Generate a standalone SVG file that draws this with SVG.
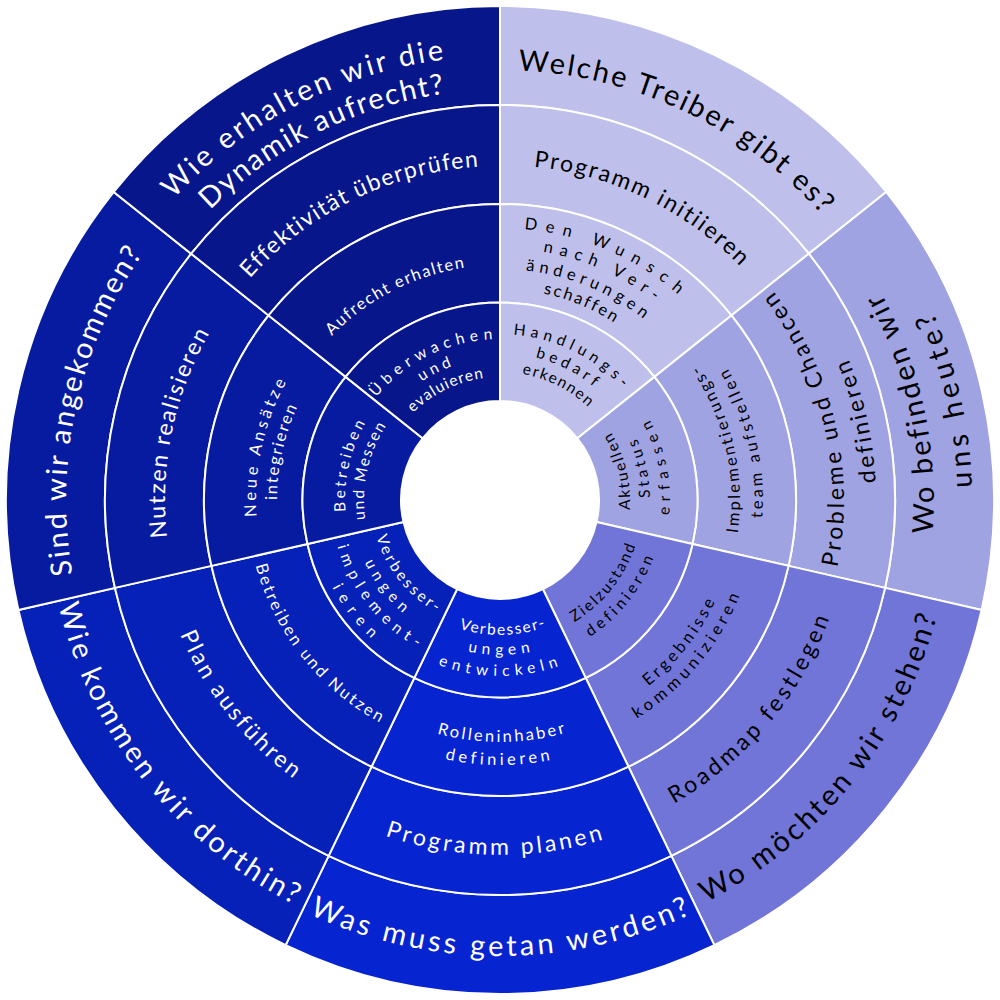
<svg xmlns="http://www.w3.org/2000/svg" width="1000" height="1000" viewBox="0 0 1000 1000">
<style>
.seg{stroke:#fff;stroke-width:2}
.c0{fill:#BEC0EB}.c1{fill:#A0A3E2}.c2{fill:#7175D8}.c3{fill:#0624D0}.c4{fill:#0521B7}.c5{fill:#061BA0}.c6{fill:#08168C}
.t{font-family:Lato,"Liberation Sans",sans-serif;text-anchor:middle;font-variant-ligatures:none;font-feature-settings:"liga" 0,"clig" 0}
.big{font-size:29px}.mid{font-size:23px}.sm{font-size:16.5px}.xs{font-size:15.5px}
.dk{fill:#000}.lt{fill:#fff}
</style>
<defs>
<path id="cw430" d="M70 500A430 430 0 0 1 930 500"/>
<path id="cw335" d="M165 500A335 335 0 0 1 835 500"/>
<path id="cw272" d="M228 500A272 272 0 0 1 772 500"/>
<path id="cw252" d="M248 500A252 252 0 0 1 752 500"/>
<path id="cw231" d="M269 500A231 231 0 0 1 731 500"/>
<path id="cw211" d="M289 500A211 211 0 0 1 711 500"/>
<path id="cw166" d="M334 500A166 166 0 0 1 666 500"/>
<path id="cw147" d="M353 500A147 147 0 0 1 647 500"/>
<path id="cw128" d="M372 500A128 128 0 0 1 628 500"/>
<path id="cw434" d="M66 500A434 434 0 0 1 934 500"/>
<path id="cw244" d="M256 500A244 244 0 0 1 744 500"/>
<path id="cw223" d="M277 500A223 223 0 0 1 723 500"/>
<path id="cw155" d="M345 500A155 155 0 0 1 655 500"/>
<path id="cw136" d="M364 500A136 136 0 0 1 636 500"/>
<path id="cw444" d="M56 500A444 444 0 0 1 944 500"/>
<path id="cw410" d="M90 500A410 410 0 0 1 910 500"/>
<path id="cw334" d="M166 500A334 334 0 0 1 834 500"/>
<path id="cw235" d="M265 500A235 235 0 0 1 735 500"/>
<path id="cw161" d="M339 500A161 161 0 0 1 661 500"/>
<path id="cw142" d="M358 500A142 142 0 0 1 642 500"/>
<path id="cw123" d="M377 500A123 123 0 0 1 623 500"/>
<path id="ccw434" d="M66 500A434 434 0 0 0 934 500"/>
<path id="ccw472" d="M28 500A472 472 0 0 0 972 500"/>
<path id="ccw344" d="M156 500A344 344 0 0 0 844 500"/>
<path id="ccw376" d="M124 500A376 376 0 0 0 876 500"/>
<path id="ccw240" d="M260 500A240 240 0 0 0 740 500"/>
<path id="ccw263" d="M237 500A263 263 0 0 0 763 500"/>
<path id="ccw130" d="M370 500A130 130 0 0 0 630 500"/>
<path id="ccw150" d="M350 500A150 150 0 0 0 650 500"/>
<path id="ccw170" d="M330 500A170 170 0 0 0 670 500"/>
<path id="ccw452" d="M48 500A452 452 0 0 0 952 500"/>
<path id="ccw350" d="M150 500A350 350 0 0 0 850 500"/>
<path id="ccw238" d="M262 500A238 238 0 0 0 738 500"/>
<path id="ccw258" d="M242 500A258 258 0 0 0 758 500"/>
<path id="ccw143" d="M357 500A143 143 0 0 0 643 500"/>
<path id="ccw164" d="M336 500A164 164 0 0 0 664 500"/>
<path id="ccw456" d="M44 500A456 456 0 0 0 956 500"/>
<path id="ccw355" d="M145 500A355 355 0 0 0 855 500"/>
<path id="ccw242" d="M258 500A242 242 0 0 0 742 500"/>
<path id="ccw265" d="M235 500A265 265 0 0 0 765 500"/>
<path id="ccw135" d="M365 500A135 135 0 0 0 635 500"/>
<path id="ccw155" d="M345 500A155 155 0 0 0 655 500"/>
<path id="ccw176" d="M324 500A176 176 0 0 0 676 500"/>
<path id="ccw454" d="M46 500A454 454 0 0 0 954 500"/>
<path id="ccw347" d="M153 500A347 347 0 0 0 847 500"/>
<path id="ccw253" d="M247 500A253 253 0 0 0 753 500"/>
<path id="ccw129" d="M371 500A129 129 0 0 0 629 500"/>
<path id="ccw149" d="M351 500A149 149 0 0 0 649 500"/>
<path id="ccw169" d="M331 500A169 169 0 0 0 669 500"/>
<path id="ccw189" d="M311 500A189 189 0 0 0 689 500"/>
</defs>
<rect width="1000" height="1000" fill="#fff"/>

<!-- Wedge 0 -->
<g id="w0-r4"><path class="seg c0" d="M500 6A494 494 0 0 1 886.22 192L808.82 253.72A395 395 0 0 0 500 105Z"/>
<text class="t big dk" transform="rotate(25.4 500 500)"><textPath href="#cw430" startOffset="50%" textLength="345" lengthAdjust="spacing">Welche Treiber gibt es?</textPath></text></g>
<g id="w0-r3"><path class="seg c0" d="M500 105A395 395 0 0 1 808.82 253.72L731.42 315.45A296 296 0 0 0 500 204Z"/>
<text class="t mid dk" transform="rotate(25.8 500 500)"><textPath href="#cw335" startOffset="50%" textLength="234" lengthAdjust="spacing">Programm initiieren</textPath></text></g>
<g id="w0-r2"><path class="seg c0" d="M500 204A296 296 0 0 1 731.42 315.45L654.41 376.86A197.5 197.5 0 0 0 500 302.5Z"/>
<text class="t sm dk" transform="rotate(23 500 500)"><textPath href="#cw272" startOffset="50%" textLength="170" lengthAdjust="spacing">Den Wunsch</textPath></text>
<text class="t sm dk" transform="rotate(23.8 500 500)"><textPath href="#cw252" startOffset="50%" textLength="123" lengthAdjust="spacing">nach Ver-</textPath></text>
<text class="t sm dk" transform="rotate(22.4 500 500)"><textPath href="#cw231" startOffset="50%" textLength="129" lengthAdjust="spacing">änderungen</textPath></text>
<text class="t sm dk" transform="rotate(22.3 500 500)"><textPath href="#cw211" startOffset="50%" textLength="77" lengthAdjust="spacing">schaffen</textPath></text></g>
<g id="w0-r1"><path class="seg c0" d="M500 302.5A197.5 197.5 0 0 1 654.41 376.86L577.4 438.27A99 99 0 0 0 500 401Z"/>
<text class="t xs dk" transform="rotate(26 500 500)"><textPath href="#cw166" startOffset="50%" textLength="124" lengthAdjust="spacing">Handlungs-</textPath></text>
<text class="t xs dk" transform="rotate(26.8 500 500)"><textPath href="#cw147" startOffset="50%" textLength="66" lengthAdjust="spacing">bedarf</textPath></text>
<text class="t xs dk" transform="rotate(26.7 500 500)"><textPath href="#cw128" startOffset="50%" textLength="75" lengthAdjust="spacing">erkennen</textPath></text></g>

<!-- Wedge 1 -->
<g id="w1-r4"><path class="seg c1" d="M886.22 192A494 494 0 0 1 981.61 609.93L885.1 587.9A395 395 0 0 0 808.82 253.72Z"/>
<text class="t big dk" transform="rotate(-102 500 500)"><textPath href="#ccw434" startOffset="50%" textLength="250" lengthAdjust="spacing">Wo befinden wir</textPath></text>
<text class="t big dk" transform="rotate(-102.5 500 500)"><textPath href="#ccw472" startOffset="50%" textLength="181" lengthAdjust="spacing">uns heute?</textPath></text></g>
<g id="w1-r3"><path class="seg c1" d="M808.82 253.72A395 395 0 0 1 885.1 587.9L788.58 565.87A296 296 0 0 0 731.42 315.45Z"/>
<text class="t mid dk" transform="rotate(-103 500 500)"><textPath href="#ccw344" startOffset="50%" textLength="292" lengthAdjust="spacing">Probleme und Chancen</textPath></text>
<text class="t mid dk" transform="rotate(-102.3 500 500)"><textPath href="#ccw376" startOffset="50%" textLength="127" lengthAdjust="spacing">definieren</textPath></text></g>
<g id="w1-r2"><path class="seg c1" d="M731.42 315.45A296 296 0 0 1 788.58 565.87L692.55 543.95A197.5 197.5 0 0 0 654.41 376.86Z"/>
<text class="t sm dk" transform="rotate(-103 500 500)"><textPath href="#ccw240" startOffset="50%" textLength="176" lengthAdjust="spacing">Implementierungs-</textPath></text>
<text class="t sm dk" transform="rotate(-103 500 500)"><textPath href="#ccw263" startOffset="50%" textLength="156" lengthAdjust="spacing">team aufstellen</textPath></text></g>
<g id="w1-r1"><path class="seg c1" d="M654.41 376.86A197.5 197.5 0 0 1 692.55 543.95L596.52 522.03A99 99 0 0 0 577.4 438.27Z"/>
<text class="t xs dk" transform="rotate(-103.4 500 500)"><textPath href="#ccw130" startOffset="50%" textLength="81" lengthAdjust="spacing">Aktuellen</textPath></text>
<text class="t xs dk" transform="rotate(-102.5 500 500)"><textPath href="#ccw150" startOffset="50%" textLength="61" lengthAdjust="spacing">Status</textPath></text>
<text class="t xs dk" transform="rotate(-101.5 500 500)"><textPath href="#ccw170" startOffset="50%" textLength="99" lengthAdjust="spacing">erfassen</textPath></text></g>

<!-- Wedge 2 -->
<g id="w2-r4"><path class="seg c2" d="M981.61 609.93A494 494 0 0 1 714.34 945.08L671.38 855.88A395 395 0 0 0 885.1 587.9Z"/>
<text class="t big dk" transform="rotate(-51.1 500 500)"><textPath href="#ccw452" startOffset="50%" textLength="378" lengthAdjust="spacing">Wo möchten wir stehen?</textPath></text></g>
<g id="w2-r3"><path class="seg c2" d="M885.1 587.9A395 395 0 0 1 671.38 855.88L628.43 766.69A296 296 0 0 0 788.58 565.87Z"/>
<text class="t mid dk" transform="rotate(-50 500 500)"><textPath href="#ccw350" startOffset="50%" textLength="247" lengthAdjust="spacing">Roadmap festlegen</textPath></text></g>
<g id="w2-r2"><path class="seg c2" d="M788.58 565.87A296 296 0 0 1 628.43 766.69L585.69 677.94A197.5 197.5 0 0 0 692.55 543.95Z"/>
<text class="t sm dk" transform="rotate(-51.6 500 500)"><textPath href="#ccw238" startOffset="50%" textLength="109" lengthAdjust="spacing">Ergebnisse</textPath></text>
<text class="t sm dk" transform="rotate(-50.1 500 500)"><textPath href="#ccw258" startOffset="50%" textLength="163" lengthAdjust="spacing">kommunizieren</textPath></text></g>
<g id="w2-r1"><path class="seg c2" d="M692.55 543.95A197.5 197.5 0 0 1 585.69 677.94L542.95 589.2A99 99 0 0 0 596.52 522.03Z"/>
<text class="t xs dk" transform="rotate(-51.3 500 500)"><textPath href="#ccw143" startOffset="50%" textLength="100" lengthAdjust="spacing">Zielzustand</textPath></text>
<text class="t xs dk" transform="rotate(-51.3 500 500)"><textPath href="#ccw164" startOffset="50%" textLength="103" lengthAdjust="spacing">definieren</textPath></text></g>

<!-- Wedge 3 -->
<g id="w3-r4"><path class="seg c3" d="M714.34 945.08A494 494 0 0 1 285.66 945.08L328.62 855.88A395 395 0 0 0 671.38 855.88Z"/>
<text class="t big lt"><textPath href="#ccw456" startOffset="50%" textLength="394" lengthAdjust="spacing">Was muss getan werden?</textPath></text></g>
<g id="w3-r3"><path class="seg c3" d="M671.38 855.88A395 395 0 0 1 328.62 855.88L371.57 766.69A296 296 0 0 0 628.43 766.69Z"/>
<text class="t mid lt" transform="rotate(1 500 500)"><textPath href="#ccw355" startOffset="50%" textLength="222" lengthAdjust="spacing">Programm planen</textPath></text></g>
<g id="w3-r2"><path class="seg c3" d="M628.43 766.69A296 296 0 0 1 371.57 766.69L414.31 677.94A197.5 197.5 0 0 0 585.69 677.94Z"/>
<text class="t sm lt" transform="rotate(-0.3 500 500)"><textPath href="#ccw242" startOffset="50%" textLength="130" lengthAdjust="spacing">Rolleninhaber</textPath></text>
<text class="t sm lt" transform="rotate(0.5 500 500)"><textPath href="#ccw265" startOffset="50%" textLength="106" lengthAdjust="spacing">definieren</textPath></text></g>
<g id="w3-r1"><path class="seg c3" d="M585.69 677.94A197.5 197.5 0 0 1 414.31 677.94L457.05 589.2A99 99 0 0 0 542.95 589.2Z"/>
<text class="t xs lt" transform="rotate(-1 500 500)"><textPath href="#ccw135" startOffset="50%" textLength="88" lengthAdjust="spacing">Verbesser-</textPath></text>
<text class="t xs lt" transform="rotate(0.4 500 500)"><textPath href="#ccw155" startOffset="50%" textLength="63" lengthAdjust="spacing">ungen</textPath></text>
<text class="t xs lt" transform="rotate(0.6 500 500)"><textPath href="#ccw176" startOffset="50%" textLength="123" lengthAdjust="spacing">entwickeln</textPath></text></g>

<!-- Wedge 4 -->
<g id="w4-r4"><path class="seg c4" d="M285.66 945.08A494 494 0 0 1 18.39 609.93L114.9 587.9A395 395 0 0 0 328.62 855.88Z"/>
<text class="t big lt" transform="rotate(51.8 500 500)"><textPath href="#ccw454" startOffset="50%" textLength="393" lengthAdjust="spacing">Wie kommen wir dorthin?</textPath></text></g>
<g id="w4-r3"><path class="seg c4" d="M328.62 855.88A395 395 0 0 1 114.9 587.9L211.42 565.87A296 296 0 0 0 371.57 766.69Z"/>
<text class="t mid lt" transform="rotate(51.9 500 500)"><textPath href="#ccw347" startOffset="50%" textLength="186" lengthAdjust="spacing">Plan ausführen</textPath></text></g>
<g id="w4-r2"><path class="seg c4" d="M371.57 766.69A296 296 0 0 1 211.42 565.87L307.45 543.95A197.5 197.5 0 0 0 414.31 677.94Z"/>
<text class="t sm lt" transform="rotate(51.7 500 500)"><textPath href="#ccw253" startOffset="50%" textLength="206" lengthAdjust="spacing">Betreiben und Nutzen</textPath></text></g>
<g id="w4-r1"><path class="seg c4" d="M414.31 677.94A197.5 197.5 0 0 1 307.45 543.95L403.48 522.03A99 99 0 0 0 457.05 589.2Z"/>
<text class="t xs lt" transform="rotate(51.6 500 500)"><textPath href="#ccw129" startOffset="50%" textLength="99" lengthAdjust="spacing">Verbesser-</textPath></text>
<text class="t xs lt" transform="rotate(53 500 500)"><textPath href="#ccw149" startOffset="50%" textLength="64" lengthAdjust="spacing">ungen</textPath></text>
<text class="t xs lt" transform="rotate(51.7 500 500)"><textPath href="#ccw169" startOffset="50%" textLength="132" lengthAdjust="spacing">implement-</textPath></text>
<text class="t xs lt" transform="rotate(52.7 500 500)"><textPath href="#ccw189" startOffset="50%" textLength="65" lengthAdjust="spacing">ieren</textPath></text></g>

<!-- Wedge 5 -->
<g id="w5-r4"><path class="seg c5" d="M18.39 609.93A494 494 0 0 1 113.78 192L191.18 253.72A395 395 0 0 0 114.9 587.9Z"/>
<text class="t big lt" transform="rotate(-77.7 500 500)"><textPath href="#cw434" startOffset="50%" textLength="336" lengthAdjust="spacing">Sind wir angekommen?</textPath></text></g>
<g id="w5-r3"><path class="seg c5" d="M114.9 587.9A395 395 0 0 1 191.18 253.72L268.58 315.45A296 296 0 0 0 211.42 565.87Z"/>
<text class="t mid lt" transform="rotate(-78.3 500 500)"><textPath href="#cw335" startOffset="50%" textLength="212" lengthAdjust="spacing">Nutzen realisieren</textPath></text></g>
<g id="w5-r2"><path class="seg c5" d="M211.42 565.87A296 296 0 0 1 268.58 315.45L345.59 376.86A197.5 197.5 0 0 0 307.45 543.95Z"/>
<text class="t sm lt" transform="rotate(-77.5 500 500)"><textPath href="#cw244" startOffset="50%" textLength="140" lengthAdjust="spacing">Neue Ansätze</textPath></text>
<text class="t sm lt" transform="rotate(-77.7 500 500)"><textPath href="#cw223" startOffset="50%" textLength="96" lengthAdjust="spacing">integrieren</textPath></text></g>
<g id="w5-r1"><path class="seg c5" d="M307.45 543.95A197.5 197.5 0 0 1 345.59 376.86L422.6 438.27A99 99 0 0 0 403.48 522.03Z"/>
<text class="t xs lt" transform="rotate(-77.3 500 500)"><textPath href="#cw155" startOffset="50%" textLength="92" lengthAdjust="spacing">Betreiben</textPath></text>
<text class="t xs lt" transform="rotate(-77.6 500 500)"><textPath href="#cw136" startOffset="50%" textLength="98" lengthAdjust="spacing">und Messen</textPath></text></g>

<!-- Wedge 6 -->
<g id="w6-r4"><path class="seg c6" d="M113.78 192A494 494 0 0 1 500 6L500 105A395 395 0 0 0 191.18 253.72Z"/>
<text class="t big lt" transform="rotate(-27.3 500 500)"><textPath href="#cw444" startOffset="50%" textLength="311" lengthAdjust="spacing">Wie erhalten wir die</textPath></text>
<text class="t big lt" transform="rotate(-26.4 500 500)"><textPath href="#cw410" startOffset="50%" textLength="266" lengthAdjust="spacing">Dynamik aufrecht?</textPath></text></g>
<g id="w6-r3"><path class="seg c6" d="M191.18 253.72A395 395 0 0 1 500 105L500 204A296 296 0 0 0 268.58 315.45Z"/>
<text class="t mid lt" transform="rotate(-26.1 500 500)"><textPath href="#cw334" startOffset="50%" textLength="261" lengthAdjust="spacing">Effektivität überprüfen</textPath></text></g>
<g id="w6-r2"><path class="seg c6" d="M268.58 315.45A296 296 0 0 1 500 204L500 302.5A197.5 197.5 0 0 0 345.59 376.86Z"/>
<text class="t sm lt" transform="rotate(-27.2 500 500)"><textPath href="#cw235" startOffset="50%" textLength="152" lengthAdjust="spacing">Aufrecht erhalten</textPath></text></g>
<g id="w6-r1"><path class="seg c6" d="M345.59 376.86A197.5 197.5 0 0 1 500 302.5L500 401A99 99 0 0 0 422.6 438.27Z"/>
<text class="t xs lt" transform="rotate(-26.5 500 500)"><textPath href="#cw161" startOffset="50%" textLength="134" lengthAdjust="spacing">Überwachen</textPath></text>
<text class="t xs lt" transform="rotate(-26.7 500 500)"><textPath href="#cw142" startOffset="50%" textLength="34" lengthAdjust="spacing">und</textPath></text>
<text class="t xs lt" transform="rotate(-26.3 500 500)"><textPath href="#cw123" startOffset="50%" textLength="80" lengthAdjust="spacing">evaluieren</textPath></text></g>
</svg>
